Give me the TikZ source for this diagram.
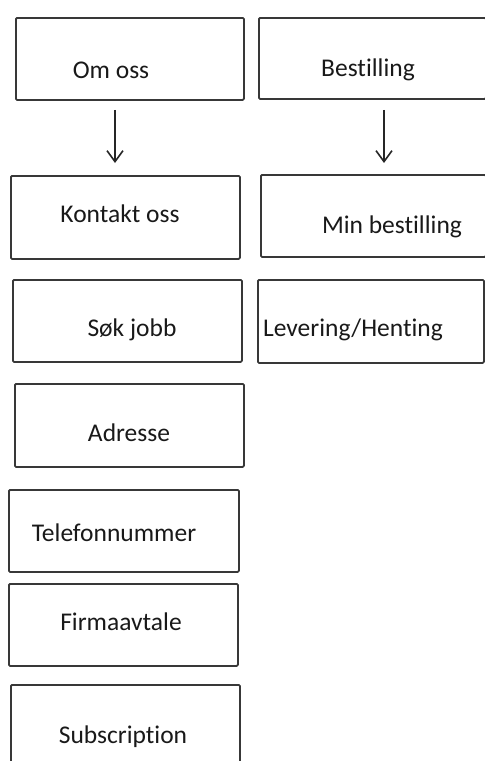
\documentclass[tikz,border=0pt]{standalone}
\usepackage{fontspec}
\setmainfont{Carlito}[Ligatures={NoCommon}]
\usetikzlibrary{arrows.meta}
\begin{document}
\begin{tikzpicture}[x=1pt,y=-1pt,
  box/.style={draw=black!78, line width=1.8pt, rounded corners=1.2pt, anchor=north west, inner sep=0pt},
  lbl/.style={font=\fontsize{25.5}{30}\selectfont, text=black!90, inner sep=0pt},
  arr/.style={draw=black!85, line width=1.6pt, -{Straight Barb[length=11pt,width=16pt,line width=1.6pt]}}]
\useasboundingbox (0,0) rectangle (485,761);
\clip (0,0) rectangle (485,761);
% boxes
\node[box, minimum width=228, minimum height=82] (omoss) at (15,17) {};
\node[box, minimum width=227, minimum height=81] (best) at (258,17) {};
\node[box, minimum width=229, minimum height=83] (kontakt) at (10,175) {};
\node[box, minimum width=225, minimum height=82] (minbest) at (260,174) {};
\node[box, minimum width=229, minimum height=82] (sok) at (12,279) {};
\node[box, minimum width=226, minimum height=83] (lev) at (257,279) {};
\node[box, minimum width=229, minimum height=83] (adr) at (14,383) {};
\node[box, minimum width=230, minimum height=82] (tlf) at (8,489) {};
\node[box, minimum width=229, minimum height=82] (firma) at (8,583) {};
\node[box, minimum width=229, minimum height=90] (sub) at (10,684) {};
% labels
\node[lbl] (tomoss) at (111,70) {Om oss};
\node[lbl] (tbest) at (368,70) {Bestilling};
\node[lbl] (tkontakt) at (120,214) {Kontakt oss};
\node[lbl] (tminbest) at (392,227) {Min bestilling};
\node[lbl] (tsok) at (132,330) {Søk jobb};
\node[lbl] (tlev) at (353,330) {Levering/Henting};
\node[lbl] (tadr) at (129,433) {Adresse};
\node[lbl] (ttlf) at (114,533) {Telefonnummer};
\node[lbl] (tfirma) at (121,622) {Firmaavtale};
\node[lbl] (tsub) at (123,737) {Subscription};
% arrows
\coordinate (ax1) at (115,0);
\coordinate (ax2) at (384,0);
\draw[arr, shorten <=9pt, shorten >=12pt] (omoss.south -| ax1) -- (kontakt.north -| ax1);
\draw[arr, shorten <=10pt, shorten >=11pt] (best.south -| ax2) -- (minbest.north -| ax2);
\end{tikzpicture}
\end{document}
